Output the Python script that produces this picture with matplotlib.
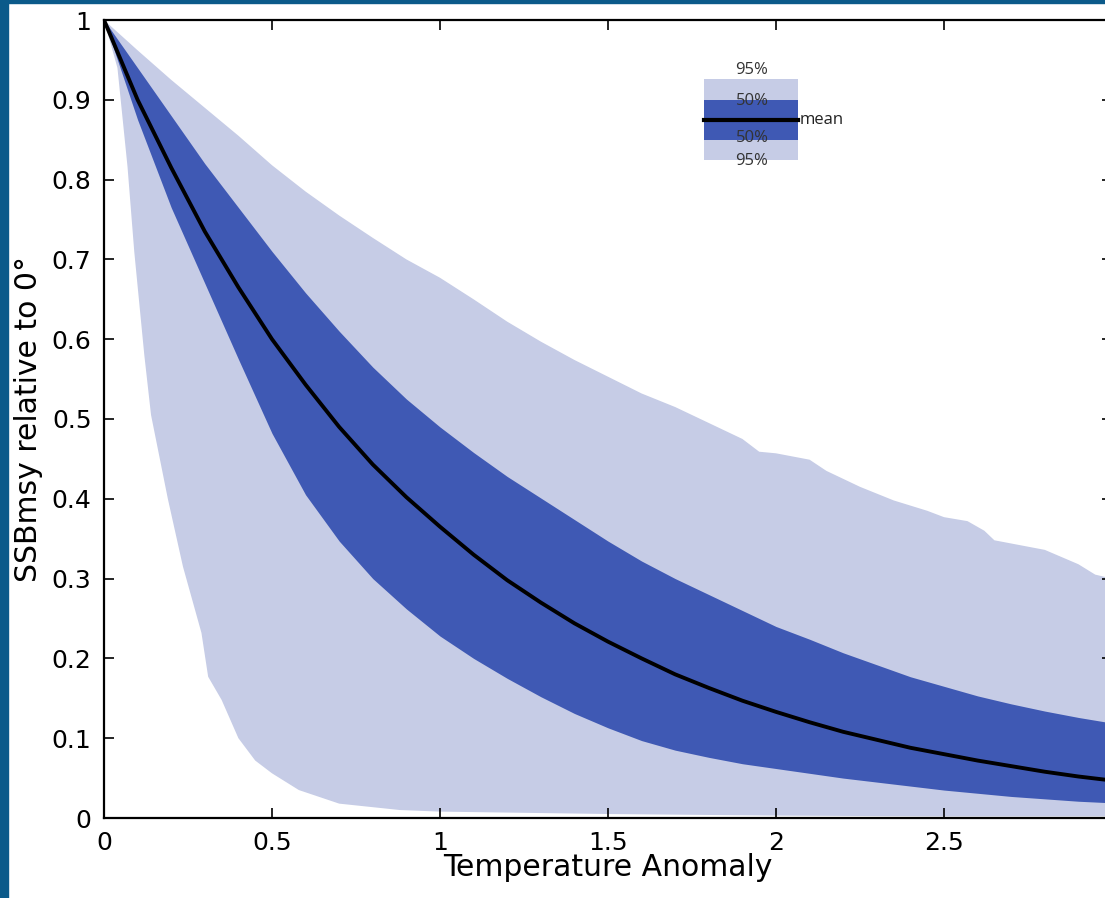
import numpy as np
import matplotlib.pyplot as plt
from matplotlib.patches import Rectangle

# mean curve
x_mean = [0, 0.1, 0.2, 0.3, 0.4, 0.5, 0.6, 0.7, 0.8, 0.9, 1.0, 1.1, 1.2, 1.3, 1.4, 1.5,
          1.6, 1.7, 1.8, 1.9, 2.0, 2.1, 2.2, 2.3, 2.4, 2.5, 2.6, 2.7, 2.8, 2.9, 3.0]
y_mean = [1.0, 0.90, 0.815, 0.735, 0.665, 0.60, 0.543, 0.49, 0.443, 0.402, 0.365, 0.33,
          0.298, 0.27, 0.244, 0.221, 0.20, 0.18, 0.163, 0.147, 0.133, 0.12, 0.108, 0.098,
          0.088, 0.08, 0.072, 0.065, 0.058, 0.052, 0.047]

# 50% band
x50 = x_mean
y50_hi = [1.0, 0.94, 0.88, 0.82, 0.765, 0.71, 0.658, 0.61, 0.565, 0.525, 0.49, 0.458, 0.428,
          0.401, 0.374, 0.347, 0.322, 0.30, 0.28, 0.26, 0.24, 0.224, 0.207, 0.192, 0.177,
          0.165, 0.153, 0.143, 0.134, 0.126, 0.119]
y50_lo = [1.0, 0.875, 0.765, 0.67, 0.575, 0.482, 0.405, 0.347, 0.30, 0.262, 0.228, 0.20,
          0.175, 0.152, 0.131, 0.113, 0.097, 0.085, 0.076, 0.068, 0.062, 0.056, 0.05, 0.045,
          0.04, 0.035, 0.031, 0.027, 0.024, 0.021, 0.019]

# 95% band, upper and lower edges
x95_hi = [0, 0.1, 0.2, 0.3, 0.4, 0.5, 0.6, 0.7, 0.8, 0.9, 1.0, 1.1, 1.2, 1.3, 1.4, 1.5,
          1.6, 1.7, 1.8, 1.9, 1.95, 2.0, 2.1, 2.15, 2.25, 2.35, 2.45, 2.5, 2.57, 2.62, 2.65,
          2.7, 2.8, 2.9, 2.95, 3.0]
y95_hi = [1.0, 0.962, 0.925, 0.89, 0.855, 0.818, 0.785, 0.755, 0.727, 0.70, 0.677, 0.65, 0.622,
          0.597, 0.574, 0.553, 0.532, 0.515, 0.495, 0.475, 0.459, 0.457, 0.449, 0.435, 0.415,
          0.398, 0.385, 0.377, 0.372, 0.36, 0.348, 0.344, 0.336, 0.318, 0.305, 0.30]
x95_lo = [0, 0.04, 0.07, 0.09, 0.12, 0.14, 0.19, 0.235, 0.29, 0.31, 0.35, 0.4, 0.45, 0.5,
          0.58, 0.7, 0.88, 1.0, 1.5, 2.0, 2.5, 3.0]
y95_lo = [1.0, 0.94, 0.816, 0.71, 0.58, 0.505, 0.40, 0.315, 0.232, 0.177, 0.148, 0.10, 0.072,
          0.056, 0.035, 0.018, 0.010, 0.008, 0.005, 0.003, 0.002, 0.002]

xticks = [0, 0.5, 1, 1.5, 2, 2.5, 3]
xticklabels = ['0', '0.5', '1', '1.5', '2', '2.5', '3']
yticks = [0, 0.1, 0.2, 0.3, 0.4, 0.5, 0.6, 0.7, 0.8, 0.9, 1]
yticklabels = ['0', '0.1', '0.2', '0.3', '0.4', '0.5', '0.6', '0.7', '0.8', '0.9', '1']

light = '#c6cce6'
dark = '#3f59b4'
frame = '#0b5a8a'

plt.rcParams['font.family'] = ['DejaVu Sans']

fig = plt.figure(figsize=(11.05, 8.98), dpi=100)
# slide-style blue edge on the left and top
fig.patches.append(Rectangle((0, 0), 8 / 1105, 1, transform=fig.transFigure, color=frame, zorder=-1))
fig.patches.append(Rectangle((0, 1 - 3 / 898), 1, 3 / 898, transform=fig.transFigure, color=frame, zorder=-1))

ax = fig.add_axes([104 / 1105, 80 / 898, 1008 / 1105, 798 / 898])

band95_x = np.concatenate([x95_hi, x95_lo[::-1]])
band95_y = np.concatenate([y95_hi, y95_lo[::-1]])
ax.fill(band95_x, band95_y, color=light, lw=0, zorder=1)
ax.fill_between(x50, y50_lo, y50_hi, color=dark, lw=0, zorder=2)
ax.plot(x_mean, y_mean, color='black', lw=2.8, zorder=3)

ax.set_xlim(0, 3)
ax.set_ylim(0, 1)
ax.set_xticks(xticks)
ax.set_xticklabels(xticklabels)
ax.set_yticks(yticks)
ax.set_yticklabels(yticklabels)
ax.tick_params(direction='in', length=7, width=1.2, labelsize=18, top=True, right=True, pad=9)
for s in ax.spines.values():
    s.set_linewidth(1.6)

ax.set_xlabel('Temperature Anomaly', fontsize=21.5, labelpad=-1)
ax.set_ylabel('SSBmsy relative to 0°', fontsize=21.5)
ax.yaxis.set_label_coords(-0.061, 0.5)

# little key in the upper middle
tf = ax.transAxes
lx0, lx1 = 600 / 1008, 694 / 1008
ax.add_patch(Rectangle((lx0, 0.825), lx1 - lx0, 0.101, transform=tf, color=light, lw=0, zorder=4))
ax.add_patch(Rectangle((lx0, 0.85), lx1 - lx0, 0.05, transform=tf, color=dark, lw=0, zorder=5))
ax.plot([lx0, lx1], [0.875, 0.875], transform=tf, color='black', lw=3, zorder=6)
kf = dict(transform=tf, fontsize=12, family=['Open Sans', 'DejaVu Sans'], color='#333333',
          ha='center', va='center', zorder=7)
lc = 648 / 1008
ax.text(lc, 0.937, '95%', **kf)
ax.text(lc, 0.898, '50%', **kf)
ax.text(lc, 0.852, '50%', **kf)
ax.text(lc, 0.823, '95%', **kf)
ax.text(lx1 + 0.002, 0.875, 'mean', transform=tf, fontsize=12, family=['Open Sans', 'DejaVu Sans'],
        color='#222222', ha='left', va='center', zorder=7)

fig.savefig('out.png', dpi=100)
